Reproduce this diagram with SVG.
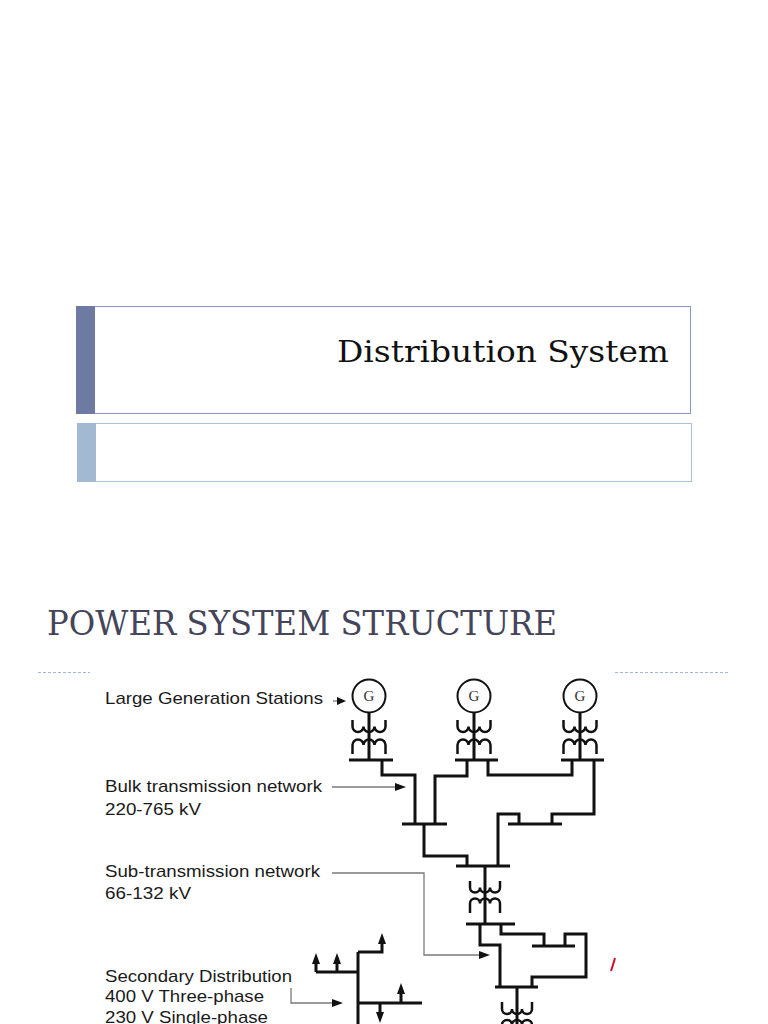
<svg xmlns="http://www.w3.org/2000/svg" width="768" height="1024" viewBox="0 0 768 1024">
<style>
.lbl{font-family:"Liberation Sans",Arial,sans-serif;font-size:17px;fill:#1a1a1a}
.ttl{font-family:"DejaVu Serif","Liberation Serif",serif}
.w{fill:none;stroke:#111;stroke-width:3;stroke-linejoin:miter}
.bus{stroke:#111;stroke-width:3.2}
.coil{fill:none;stroke:#111;stroke-width:2.5}
.gen{fill:#fff;stroke:#111;stroke-width:2}
.gt{font-family:"Liberation Serif",serif;font-size:15px;fill:#333;text-anchor:middle}
.thin{fill:none;stroke:#7a7a7a;stroke-width:1.3}
.hd{fill:#111}
.dash{stroke:#9fb6d6;stroke-width:1;stroke-dasharray:3 2}
</style>
<rect width="768" height="1024" fill="#fff"/>

<g id="title-card">
<rect x="76.5" y="306.5" width="614" height="107" fill="#fff" stroke="#8c96c6"/>
<rect x="76" y="306" width="19" height="108" fill="#6f7aa3"/>
<text class="ttl" x="669" y="362" font-size="30" text-anchor="end" fill="#111" textLength="332" lengthAdjust="spacingAndGlyphs">Distribution System</text>
</g>
<g id="subtitle-card">
<rect x="77.5" y="423.5" width="614" height="58" fill="#fff" stroke="#a9c2da"/>
<rect x="77" y="423" width="19" height="59" fill="#a2b9d1"/>
</g>

<g id="heading">
<text class="ttl" x="47" y="635" font-size="34" fill="#45455a" textLength="510" lengthAdjust="spacingAndGlyphs">POWER SYSTEM STRUCTURE</text>
<line class="dash" x1="38" y1="672.5" x2="90" y2="672.5"/>
<line class="dash" x1="615" y1="672.5" x2="730" y2="672.5"/>
</g>

<g id="labels">
<text class="lbl" x="105" y="704" textLength="218" lengthAdjust="spacingAndGlyphs">Large Generation Stations</text>
<text class="lbl" x="105" y="792" textLength="217" lengthAdjust="spacingAndGlyphs">Bulk transmission network</text>
<text class="lbl" x="105" y="815" textLength="96" lengthAdjust="spacingAndGlyphs">220-765 kV</text>
<text class="lbl" x="105" y="877" textLength="215" lengthAdjust="spacingAndGlyphs">Sub-transmission network</text>
<text class="lbl" x="105" y="899" textLength="86" lengthAdjust="spacingAndGlyphs">66-132 kV</text>
<text class="lbl" x="105" y="982" textLength="187" lengthAdjust="spacingAndGlyphs">Secondary Distribution</text>
<text class="lbl" x="105" y="1002" textLength="159" lengthAdjust="spacingAndGlyphs">400 V Three-phase</text>
<text class="lbl" x="105" y="1023" textLength="163" lengthAdjust="spacingAndGlyphs">230 V Single-phase</text>
</g>

<g id="generators">
<g id="gen1"><circle class="gen" cx="369" cy="696" r="16.5"/><text class="gt" x="369" y="701">G</text></g>
<g id="gen2"><circle class="gen" cx="474" cy="696" r="16.5"/><text class="gt" x="474" y="701">G</text></g>
<g id="gen3"><circle class="gen" cx="580" cy="696" r="16.5"/><text class="gt" x="580" y="701">G</text></g>
</g>

<g id="transformers">
<g id="t1">
<path class="coil" d="M352.5 720V726.5A5.5 5.5 0 0 0 363.5 726.5A5.5 5.5 0 0 0 374.5 726.5A5.5 5.5 0 0 0 385.5 726.5V720"/>
<path class="coil" d="M352.5 754V745A5.5 5.5 0 0 1 363.5 745A5.5 5.5 0 0 1 374.5 745A5.5 5.5 0 0 1 385.5 745V754"/>
</g>
<g id="t2">
<path class="coil" d="M457.5 720V726.5A5.5 5.5 0 0 0 468.5 726.5A5.5 5.5 0 0 0 479.5 726.5A5.5 5.5 0 0 0 490.5 726.5V720"/>
<path class="coil" d="M457.5 754V745A5.5 5.5 0 0 1 468.5 745A5.5 5.5 0 0 1 479.5 745A5.5 5.5 0 0 1 490.5 745V754"/>
</g>
<g id="t3">
<path class="coil" d="M563.5 720V726.5A5.5 5.5 0 0 0 574.5 726.5A5.5 5.5 0 0 0 585.5 726.5A5.5 5.5 0 0 0 596.5 726.5V720"/>
<path class="coil" d="M563.5 754V745A5.5 5.5 0 0 1 574.5 745A5.5 5.5 0 0 1 585.5 745A5.5 5.5 0 0 1 596.5 745V754"/>
</g>
<g id="t4">
<path class="coil" d="M470 881V887.5A5 5 0 0 0 480 887.5A5 5 0 0 0 490 887.5A5 5 0 0 0 500 887.5V881"/>
<path class="coil" d="M470 913V903.5A5 5 0 0 1 480 903.5A5 5 0 0 1 490 903.5A5 5 0 0 1 500 903.5V913"/>
</g>
<g id="t5">
<path class="coil" d="M502 1002V1009A5 5 0 0 0 512 1009A5 5 0 0 0 522 1009A5 5 0 0 0 532 1009V1002"/>
<path class="coil" d="M502 1033V1025A5 5 0 0 1 512 1025A5 5 0 0 1 522 1025A5 5 0 0 1 532 1025V1033"/>
</g>
</g>

<g id="buses">
<line id="bus1" class="bus" x1="349" y1="760" x2="393" y2="760"/>
<line id="bus2" class="bus" x1="455" y1="760" x2="498" y2="760"/>
<line id="bus3" class="bus" x1="561" y1="760" x2="604" y2="760"/>
<line id="busA" class="bus" x1="402" y1="824" x2="447" y2="824"/>
<line id="busB" class="bus" x1="508" y1="824" x2="562" y2="824"/>
<line id="busC" class="bus" x1="456" y1="866" x2="510" y2="866"/>
<line id="busD" class="bus" x1="466" y1="924" x2="515" y2="924"/>
<line id="busE" class="bus" x1="532" y1="946" x2="575" y2="946"/>
<line id="busF" class="bus" x1="495" y1="987" x2="538" y2="987"/>
</g>

<g id="connectors">
<path class="w" d="M369 712.5V760M474 712.5V760M580 712.5V760"/>
<path class="w" d="M382 760V775H415V824"/>
<path class="w" d="M467 760V776H435V824"/>
<path class="w" d="M488 760V775H572V760"/>
<path class="w" d="M594 760V814H552V824"/>
<path class="w" d="M519 824V814H498V866"/>
<path class="w" d="M424 824V856H467V866"/>
<path class="w" d="M485 866V924"/>
<path class="w" d="M480 924V945H500V987"/>
<path class="w" d="M501 924V934H544V946"/>
<path class="w" d="M565 946V934H586V977H532V987"/>
<path class="w" d="M517 987V1030"/>
<path class="w" d="M358 952V1030M358 952H382V942M316 972H358M316 972V962M337 972V962M358 1003H422M401 1003V992M380 1003V1014"/>
<path class="hd" d="M382 933L378 944H386ZM316 953L312 964H320ZM337 953L333 964H341ZM401 983L397 994H405ZM380 1023L376 1012H384Z"/>
<path class="thin" d="M333 701H339"/>
<path class="hd" d="M346 701L337 697V705Z"/>
<path class="thin" d="M332 787H398"/>
<path class="hd" d="M406 787L395 783V791Z"/>
<path class="thin" d="M332 873H424V955H482"/>
<path class="hd" d="M490 955L479 951V959Z"/>
<path class="thin" d="M291 988V1003H335"/>
<path class="hd" d="M343 1003L332 999V1007Z"/>
</g>

<path id="red-mark" d="M615 958Q613 965 611 971" fill="none" stroke="#c8102e" stroke-width="2"/>
</svg>
